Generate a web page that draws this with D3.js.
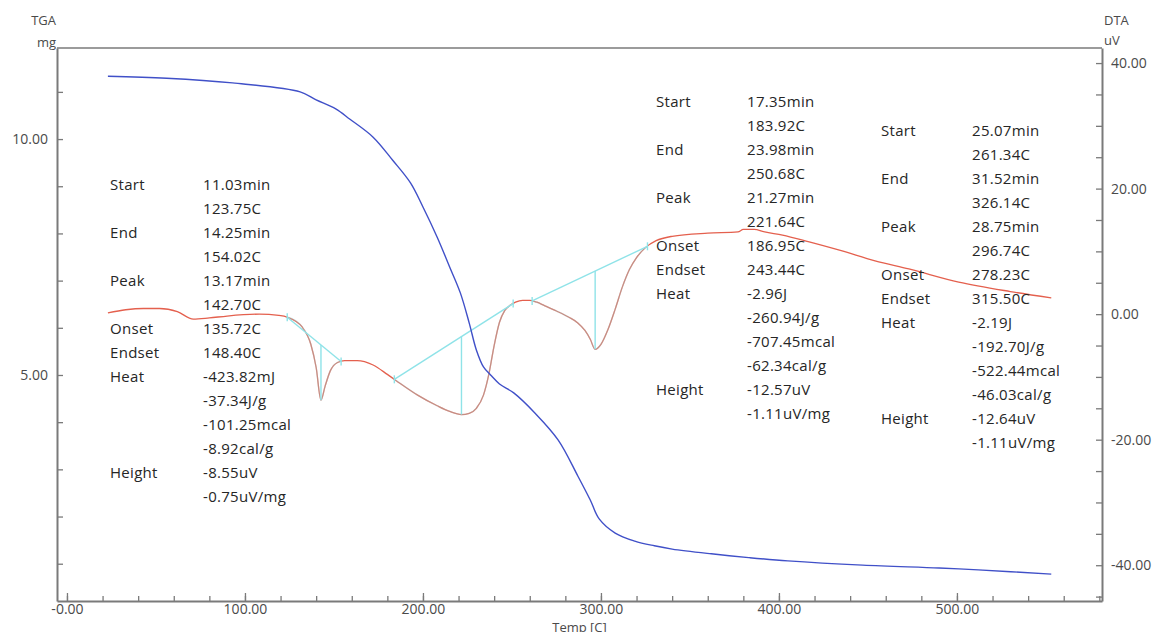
<!DOCTYPE html>
<html>
<head>
<meta charset="UTF-8">
<title>TGA / DTA</title>
<script src="https://cdnjs.cloudflare.com/ajax/libs/d3/7.8.5/d3.min.js"></script>
<style>
  body { margin: 0; background: #fff; overflow: hidden; }
  svg { font-family: "Open Sans", "Noto Sans", sans-serif; }
  .tick-label { font-size: 14px; fill: #4a4a4a; }
  .info { font-size: 15px; fill: #262626; letter-spacing: 0.3px; }
</style>
</head>
<body>
<svg id="chart" width="1158" height="632"></svg>
<script>
// TGA curve (temperature C, mass mg)
const tgaTemp = [23, 56, 93, 131, 140, 151, 159, 172, 183, 193, 200, 208, 215, 221, 226, 230,
  234, 238, 243, 251, 263, 276, 287, 294, 299, 308, 319, 330, 340, 362, 383, 405, 447, 490, 512, 553];
const tgaMg = [11.33, 11.29, 11.19, 11.00, 10.83, 10.64, 10.42, 10.04, 9.55, 9.07, 8.56, 7.92, 7.29, 6.74, 6.10, 5.53,
  5.17, 5.00, 4.81, 4.62, 4.19, 3.62, 2.86, 2.35, 1.95, 1.65, 1.48, 1.38, 1.31, 1.21, 1.13, 1.06, 0.97, 0.91, 0.87, 0.78];

// DTA curve (temperature C, signal uV)
const dtaTemp = [23, 33, 43, 52, 62, 71, 80, 90, 108, 119, 124, 132, 137, 140, 142.7, 145, 148, 152, 156, 163,
  172, 180, 185, 197, 208, 215, 221.6, 226, 230, 234, 237, 240, 243, 246, 249, 252, 256, 260, 264, 268, 275,
  282, 287, 291, 294, 296.7, 300, 304, 308, 312, 316, 320, 325, 331, 340, 360, 377, 380, 386, 392, 402, 417,
  435, 454, 473, 501, 530, 553];
const dtaUv = [0.2, 0.7, 0.9, 0.9, 0.4, -0.8, -0.6, -0.3, 0.0, -0.2, -0.5, -2.0, -4.8, -8.5, -13.7, -11.5, -9.0, -7.7, -7.4, -7.4,
  -8.1, -9.6, -10.6, -12.9, -14.6, -15.5, -16.0, -15.8, -15.0, -12.9, -9.6, -5.0, -1.3, 0.6, 1.4, 1.9, 2.2, 2.2, 1.9, 1.4, 0.5,
  -0.5, -1.4, -2.6, -4.0, -5.6, -4.8, -2.4, 0.8, 4.3, 7.1, 9.0, 10.6, 11.7, 12.4, 12.9, 13.1, 13.5, 13.5, 13.1, 12.6, 11.5,
  10.1, 8.5, 7.2, 5.1, 3.6, 2.6];

// peak analysis (C)
const peakStart = [123.75, 183.92, 261.34];
const peakEnd = [154.02, 250.68, 326.14];
const peakTop = [142.70, 221.64, 296.74];

const infoLabels = ["Start", "End", "Peak", "Onset", "Endset", "Heat", "Height"];
const infoPeak1 = [["11.03min", "123.75C"], ["14.25min", "154.02C"], ["13.17min", "142.70C"], ["135.72C"], ["148.40C"],
  ["-423.82mJ", "-37.34J/g", "-101.25mcal", "-8.92cal/g"], ["-8.55uV", "-0.75uV/mg"]];
const infoPeak2 = [["17.35min", "183.92C"], ["23.98min", "250.68C"], ["21.27min", "221.64C"], ["186.95C"], ["243.44C"],
  ["-2.96J", "-260.94J/g", "-707.45mcal", "-62.34cal/g"], ["-12.57uV", "-1.11uV/mg"]];
const infoPeak3 = [["25.07min", "261.34C"], ["31.52min", "326.14C"], ["28.75min", "296.74C"], ["278.23C"], ["315.50C"],
  ["-2.19J", "-192.70J/g", "-522.44mcal", "-46.03cal/g"], ["-12.64uV", "-1.11uV/mg"]];

// axis ticks
const xMajor = [0, 100, 200, 300, 400, 500];
const xMajorText = ["-0.00", "100.00", "200.00", "300.00", "400.00", "500.00"];
const tgaMajor = [5, 10];
const tgaMajorText = ["5.00", "10.00"];
const dtaMajor = [-40, -20, 0, 20, 40];
const dtaMajorText = ["-40.00", "-20.00", "0.00", "20.00", "40.00"];

const svg = d3.select("#chart");
const plotL = 57, plotR = 1102, plotT = 48, plotB = 601;

const x = d3.scaleLinear().domain([-5.6, 581.5]).range([plotL, plotR]);
const yTga = d3.scaleLinear().domain([0.21, 11.93]).range([plotB, plotT]);
const yDta = d3.scaleLinear().domain([-45.7, 42.4]).range([plotB, plotT]);

const axisColor = "#7a7a7a";
const blue = "#4050c8", red = "#e4604e", cyan = "#8fe3e8";

// frame
svg.append("line").attr("x1", plotL).attr("x2", plotR).attr("y1", plotT).attr("y2", plotT)
  .attr("stroke", axisColor).attr("stroke-width", 1.3);

function styleAxis(g) {
  g.attr("font-family", null).attr("font-size", null);
  g.select(".domain").attr("stroke", axisColor).attr("stroke-width", 2);
  g.selectAll(".tick line").attr("stroke", axisColor).attr("stroke-width", 1.3);
  g.selectAll(".tick text").attr("class", "tick-label").attr("fill", null);
}

// bottom axis
const xMinor = d3.range(0, 581, 20);
svg.append("g").attr("transform", `translate(0,${plotB})`)
  .call(d3.axisBottom(x).tickValues(xMinor).tickSizeInner(-5).tickSizeOuter(0).tickFormat(""))
  .call(styleAxis);
const xg = svg.append("g").attr("transform", `translate(0,${plotB})`)
  .call(d3.axisBottom(x).tickValues(xMajor).tickSizeInner(-8).tickSizeOuter(0)
    .tickFormat((d, i) => xMajorText[i]))
  .call(styleAxis);
xg.select(".domain").remove();
xg.selectAll(".tick text").attr("y", 3).attr("dy", "0.71em");

// left TGA axis
const tgaMinor = d3.range(1, 12, 1);
const lg = svg.append("g").attr("transform", `translate(${plotL},0)`)
  .call(d3.axisLeft(yTga).tickValues(tgaMinor).tickSizeInner(-6).tickSizeOuter(0)
    .tickFormat(d => { const i = tgaMajor.indexOf(d); return i < 0 ? "" : tgaMajorText[i]; }))
  .call(styleAxis);
lg.selectAll(".tick text").attr("x", -9);

// right DTA axis
const dtaMinor = d3.range(-45, 41, 5);
const rg = svg.append("g").attr("transform", `translate(${plotR},0)`)
  .call(d3.axisRight(yDta).tickValues(dtaMinor).tickSizeInner(-6).tickSizeOuter(0)
    .tickFormat(d => { const i = dtaMajor.indexOf(d); return i < 0 ? "" : dtaMajorText[i]; }))
  .call(styleAxis);
rg.selectAll(".tick text").attr("x", 9);

// axis titles
svg.append("text").attr("class", "tick-label").attr("x", 56).attr("y", 25).attr("text-anchor", "end").style("font-size", "13px").text("TGA");
svg.append("text").attr("class", "tick-label").attr("x", 56).attr("y", 47).attr("text-anchor", "end").style("font-size", "13px").text("mg");
svg.append("text").attr("class", "tick-label").attr("x", 1104).attr("y", 25).style("font-size", "13px").text("DTA");
svg.append("text").attr("class", "tick-label").attr("x", 1104).attr("y", 45).style("font-size", "13px").text("uV");
svg.append("text").attr("class", "tick-label").attr("x", (plotL + plotR) / 2).attr("y", 632).attr("text-anchor", "middle")
  .style("font-size", "13px").text("Temp  [C]");

// curves
const tgaPts = tgaTemp.map((t, i) => [t, tgaMg[i]]);
const dtaPts = dtaTemp.map((t, i) => [t, dtaUv[i]]);

const tgaLine = d3.line().x(d => x(d[0])).y(d => yTga(d[1])).curve(d3.curveCatmullRom.alpha(0.5));
const dtaLine = d3.line().x(d => x(d[0])).y(d => yDta(d[1])).curve(d3.curveMonotoneX);

function dtaAt(t) {
  const i = d3.bisectLeft(dtaTemp, t);
  if (i <= 0) return dtaUv[0];
  if (i >= dtaTemp.length) return dtaUv[dtaUv.length - 1];
  const f = (t - dtaTemp[i - 1]) / (dtaTemp[i] - dtaTemp[i - 1]);
  return dtaUv[i - 1] + f * (dtaUv[i] - dtaUv[i - 1]);
}

svg.append("path").datum(dtaPts).attr("d", dtaLine)
  .attr("fill", "none").attr("stroke", red).attr("stroke-width", 1.3);

// peak analysis marks
const ana = svg.append("g").attr("stroke", cyan).attr("stroke-width", 1.4).attr("fill", "none");
peakStart.forEach((s, k) => {
  const e = peakEnd[k];
  const base = d3.scaleLinear().domain([s, e]).range([dtaAt(s), dtaAt(e)]);
  // integrated part of the curve
  const seg = [[s, dtaAt(s)]].concat(dtaPts.filter(d => d[0] > s && d[0] < e), [[e, dtaAt(e)]]);
  ana.append("path").datum(seg).attr("d", dtaLine).attr("opacity", 0.35);
  // baseline
  ana.append("line").attr("x1", x(s)).attr("y1", yDta(base(s))).attr("x2", x(e)).attr("y2", yDta(base(e)));
  // peak height
  const p = peakTop[k];
  ana.append("line").attr("x1", x(p)).attr("y1", yDta(base(p))).attr("x2", x(p)).attr("y2", yDta(dtaAt(p)));
  // start / end markers
  [s, e].forEach(t => {
    ana.append("line").attr("x1", x(t)).attr("x2", x(t))
      .attr("y1", yDta(dtaAt(t)) - 4).attr("y2", yDta(dtaAt(t)) + 4);
  });
});

svg.append("path").datum(tgaPts).attr("d", tgaLine)
  .attr("fill", "none").attr("stroke", blue).attr("stroke-width", 1.4);

// result tables
const lineStep = 24;
const blocks = [
  { values: infoPeak1, lx: 110, vx: 203, y0: 185 },
  { values: infoPeak2, lx: 656, vx: 747, y0: 102 },
  { values: infoPeak3, lx: 881, vx: 972, y0: 131 }
];
blocks.forEach(b => {
  const g = svg.append("g");
  let row = 0;
  infoLabels.forEach((lab, i) => {
    g.append("text").attr("class", "info").attr("x", b.lx).attr("y", b.y0 + row * lineStep + 5).text(lab);
    b.values[i].forEach((v, j) => {
      g.append("text").attr("class", "info").attr("x", b.vx).attr("y", b.y0 + (row + j) * lineStep + 5).text(v);
    });
    row += b.values[i].length;
  });
});
</script>
</body>
</html>
